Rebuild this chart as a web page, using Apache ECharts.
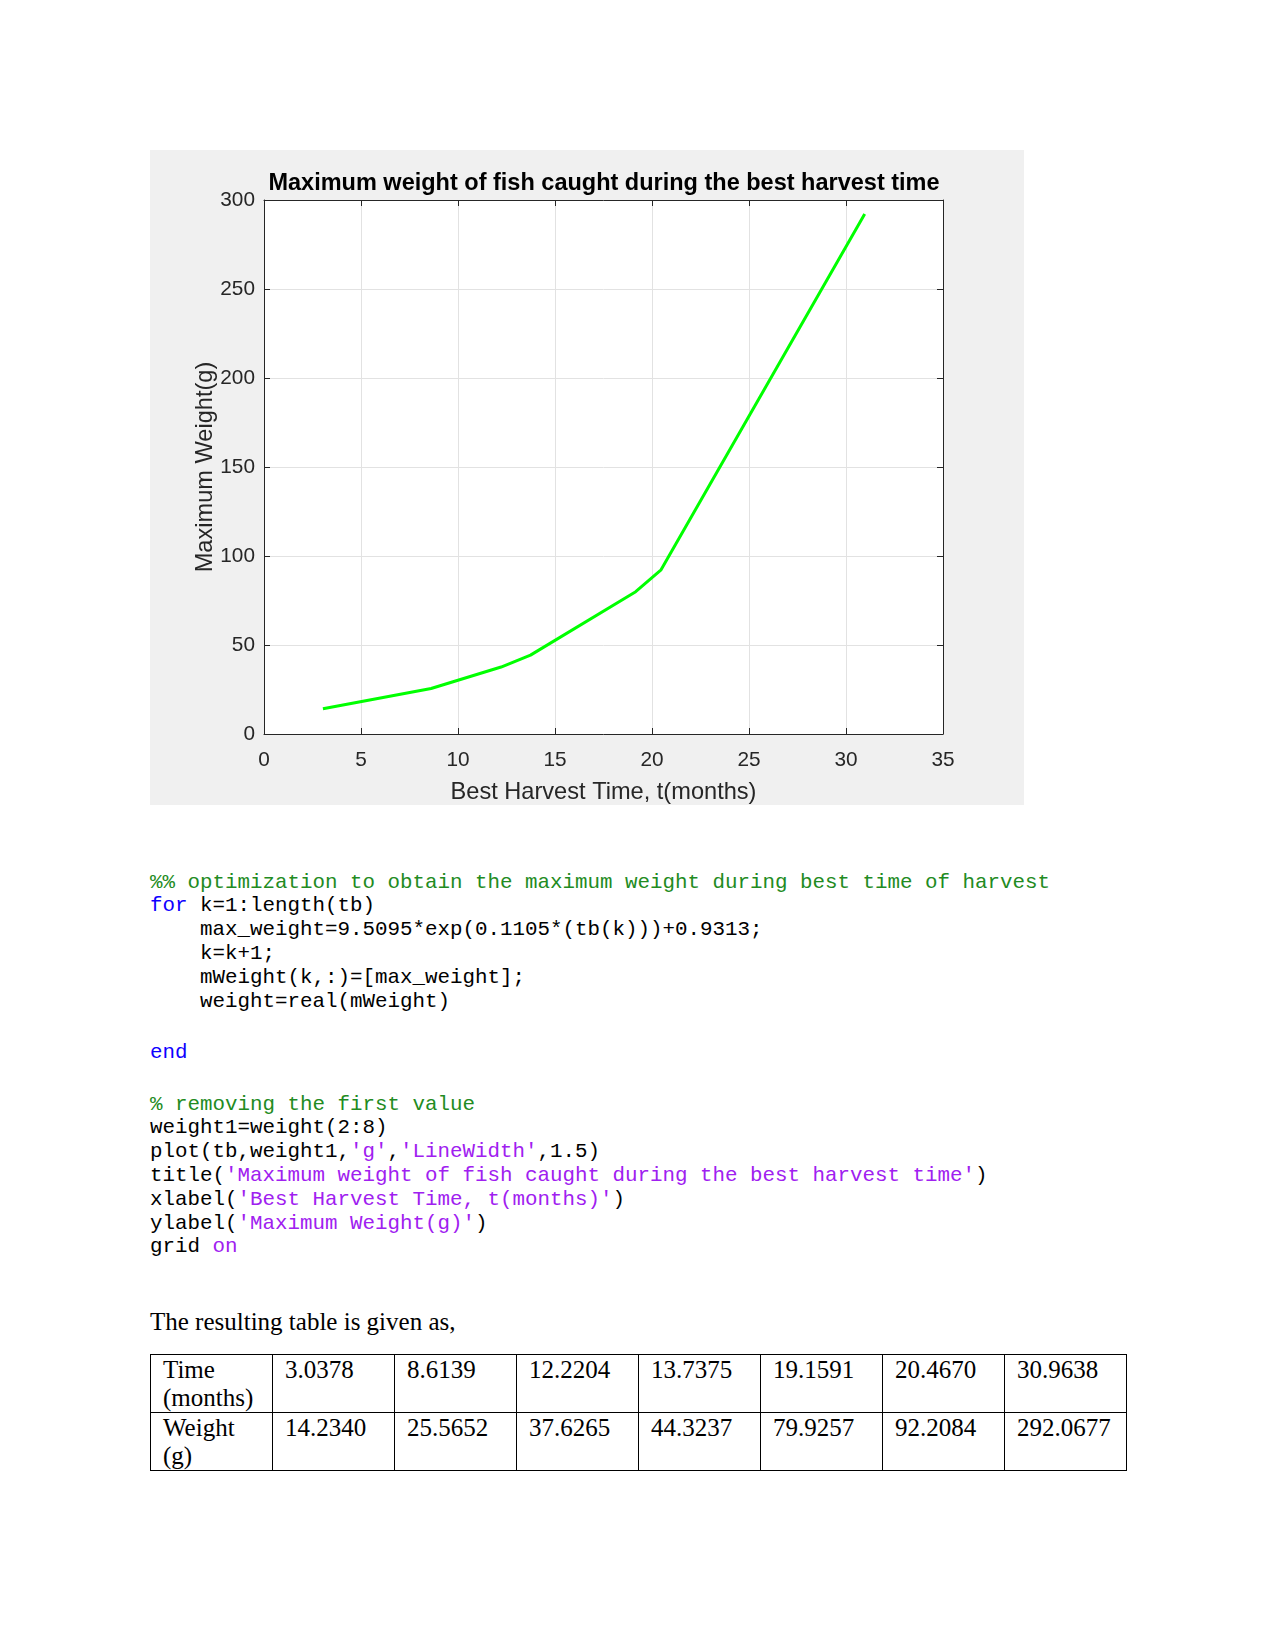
<!DOCTYPE html>
<html>
<head>
<meta charset="utf-8">
<script src="https://cdn.jsdelivr.net/npm/echarts@6/dist/echarts.min.js"></script>
<style>
  html, body { margin: 0; padding: 0; background: #fff; width: 1275px; height: 1650px; overflow: hidden; }
  #chart { position: absolute; left: 150px; top: 150px; width: 874px; height: 655px; }
  .code { position: absolute; left: 150px; font-family: "Liberation Mono", monospace; font-size: 20.83px; line-height: 23.8px; white-space: pre; color: #000; }
  .cm { color: #228B22; }
  .kw { color: #0E00FF; }
  .st { color: #A020F0; }
  #intro { position: absolute; left: 150px; top: 1308px; font-family: "Liberation Serif", serif; font-size: 25px; line-height: 28px; color: #000; }
  #tbl { position: absolute; left: 150px; top: 1354px; border-collapse: collapse; font-family: "Liberation Serif", serif; font-size: 25px; line-height: 28px; color: #000; table-layout: fixed; }
  #tbl td { border: 1px solid #000; width: 99px; height: 56px; padding: 1px 10px 0 12px; vertical-align: top; box-sizing: content-box; }
</style>
</head>
<body>
<div id="chart"></div>

<div class="code" style="top:870.7px"><span class="cm">%% optimization to obtain the maximum weight during best time of harvest</span>
<span class="kw">for</span> k=1:length(tb)
    max_weight=9.5095*exp(0.1105*(tb(k)))+0.9313;
    k=k+1;
    mWeight(k,:)=[max_weight];
    weight=real(mWeight)</div>
<div class="code" style="top:1041px"><span class="kw">end</span></div>
<div class="code" style="top:1092.6px"><span class="cm">% removing the first value</span>
weight1=weight(2:8)
plot(tb,weight1,<span class="st">'g'</span>,<span class="st">'LineWidth'</span>,1.5)
title(<span class="st">'Maximum weight of fish caught during the best harvest time'</span>)
xlabel(<span class="st">'Best Harvest Time, t(months)'</span>)
ylabel(<span class="st">'Maximum Weight(g)'</span>)
grid <span class="st">on</span></div>

<div id="intro">The resulting table is given as,</div>
<table id="tbl"><tbody id="tbody"></tbody></table>

<script>
// ---- data ----
const tb = [3.0378, 8.6139, 12.2204, 13.7375, 19.1591, 20.4670, 30.9638];
const weight = [14.2340, 25.5652, 37.6265, 44.3237, 79.9257, 92.2084, 292.0677];
const rowHeaders = ['Time (months)', 'Weight (g)'];
const chartTitle = 'Maximum weight of fish caught during the best harvest time';
const xLabel = 'Best Harvest Time, t(months)';
const yLabel = 'Maximum Weight(g)';
const xMin = 0, xMax = 35, xStep = 5;
const yMin = 0, yMax = 300, yStep = 50;

// ---- table ----
const tbody = document.getElementById('tbody');
[[rowHeaders[0], tb], [rowHeaders[1], weight]].forEach(([h, vals]) => {
  const tr = document.createElement('tr');
  const th = document.createElement('td');
  th.textContent = h;
  tr.appendChild(th);
  vals.forEach(v => {
    const td = document.createElement('td');
    td.textContent = v.toFixed(4);
    tr.appendChild(td);
  });
  tbody.appendChild(tr);
});

// ---- chart ----
const chart = echarts.init(document.getElementById('chart'), null, { renderer: 'canvas' });
const axisColor = '#262626';
const font = 'Liberation Sans, Arial, sans-serif';
const baseX = {
  type: 'value', min: xMin, max: xMax, interval: xStep,
  axisLine: { show: true, onZero: false, lineStyle: { color: axisColor, width: 1 } },
  axisTick: { show: true, inside: true, length: 6, lineStyle: { color: axisColor, width: 1 } }
};
const baseY = {
  type: 'value', min: yMin, max: yMax, interval: yStep,
  axisLine: { show: true, onZero: false, lineStyle: { color: axisColor, width: 1 } },
  axisTick: { show: true, inside: true, length: 6, lineStyle: { color: axisColor, width: 1 } }
};
chart.setOption({
  backgroundColor: '#f0f0f0',
  animation: false,
  title: {
    text: chartTitle,
    left: 449, top: 17, textAlign: 'center',
    textStyle: { fontFamily: font, fontSize: 23.5, fontWeight: 'bold', color: '#000' }
  },
  grid: { left: 114, top: 50, width: 679, height: 534, show: true, backgroundColor: '#fff', borderWidth: 0, containLabel: false, outerBoundsMode: 'none' },
  xAxis: [
    Object.assign({}, baseX, {
      position: 'bottom',
      axisLabel: { fontFamily: font, fontSize: 20.8, color: axisColor, margin: 16 },
      splitLine: { show: true, lineStyle: { color: '#e2e2e2', width: 1 } },
      name: xLabel, nameLocation: 'middle', nameGap: 46, nameMoveOverlap: false,
      nameTextStyle: { fontFamily: font, fontSize: 23.6, color: axisColor }
    }),
    Object.assign({}, baseX, { position: 'top', axisLabel: { show: false }, splitLine: { show: false } })
  ],
  yAxis: [
    Object.assign({}, baseY, {
      position: 'left',
      axisLabel: { fontFamily: font, fontSize: 20.8, color: axisColor, margin: 9, padding: [6, 0, 0, 0] },
      splitLine: { show: true, lineStyle: { color: '#e2e2e2', width: 1 } },
      name: yLabel, nameLocation: 'middle', nameGap: 47, nameRotate: 90, nameMoveOverlap: false,
      nameTextStyle: { fontFamily: font, fontSize: 23.6, color: axisColor }
    }),
    Object.assign({}, baseY, { position: 'right', axisLabel: { show: false }, splitLine: { show: false } })
  ],
  series: [{
    type: 'line',
    xAxisIndex: 0, yAxisIndex: 0,
    data: tb.map((t, i) => [t, weight[i]]),
    showSymbol: false,
    lineStyle: { color: '#00ff00', width: 3 },
    itemStyle: { color: '#00ff00' }
  }]
});
</script>
</body>
</html>
